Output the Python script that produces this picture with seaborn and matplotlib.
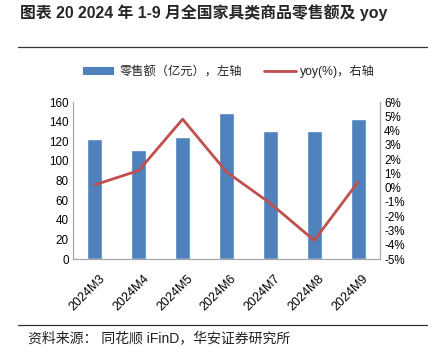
import matplotlib
matplotlib.use("Agg")
import matplotlib.pyplot as plt
import matplotlib.transforms as mtrans
import seaborn as sns
from matplotlib.lines import Line2D
from matplotlib.patches import Patch

months = ["2024M3", "2024M4", "2024M5", "2024M6", "2024M7", "2024M8", "2024M9"]
sales = [122, 111, 124, 149, 130, 130, 143]
yoy = [0.2, 1.2, 4.8, 1.1, -1.1, -3.7, 0.4]
left_ticks = [0, 20, 40, 60, 80, 100, 120, 140, 160]
right_ticks = [-5, -4, -3, -2, -1, 0, 1, 2, 3, 4, 5, 6]

title = "图表 20 2024 年 1-9 月全国家具类商品零售额及 yoy"
bar_label = "零售额（亿元），左轴"
line_label = "yoy(%)，右轴"
source = "资料来源： 同花顺 iFinD，华安证券研究所"

sns.set_theme(style="white")
plt.rcParams['font.family'] = ['Liberation Sans', 'Noto Sans CJK SC', 'DejaVu Sans']

BLUE = "#4F81BD"
RED = "#C0504D"
SPINE = "#A6A6A6"

fig = plt.figure(figsize=(4.28, 3.47), dpi=100)
ax = fig.add_axes([0.1706, 0.2536, 0.7173, 0.4524])

sns.barplot(x=months, y=sales, color=BLUE, width=0.34, ax=ax, saturation=1)
ax.set_ylim(0, 160)
ax.set_yticks(left_ticks)
ax.set_xlim(-0.5, 6.5)

ax2 = ax.twinx()
sns.lineplot(x=months, y=yoy, sort=False, color=RED, linewidth=2, ax=ax2)
ax2.set_ylim(-5, 6)
ax2.set_yticks(right_ticks)
ax2.set_yticklabels([f"{t}%" for t in right_ticks])
ax2.set_xlim(-0.5, 6.5)

for a in (ax, ax2):
    for s in a.spines.values():
        s.set_color(SPINE)
        s.set_linewidth(0.8)
    a.spines['top'].set_visible(False)
    a.tick_params(length=0, labelsize=8.4, colors="black", pad=3)
    a.set_xlabel("")
    a.set_ylabel("")
    a.grid(False)

ax.set_xticks(range(len(months)))
ax.set_xticklabels(months, rotation=45, ha='right', rotation_mode='anchor', fontsize=9)
ax.tick_params(axis='x', pad=10)
shift = mtrans.ScaledTranslation(4 / 100, 0, fig.dpi_scale_trans)
for lab in ax.get_xticklabels():
    lab.set_transform(lab.get_transform() + shift)

handles = [Patch(facecolor=BLUE, edgecolor='none'),
           Line2D([0], [0], color=RED, lw=2)]
fig.legend(handles, [bar_label, line_label], loc='center', bbox_to_anchor=(0.535, 0.793),
           ncol=2, frameon=False, fontsize=8.8, handlelength=2.6, handleheight=0.55,
           columnspacing=1.8, handletextpad=0.4)

fig.text(0.047, 0.963, title, fontsize=11.4, fontweight='bold', ha='left', va='center',
         family=['Liberation Sans', 'Noto Sans CJK SC'])

fig.add_artist(Line2D([0.042, 1.0], [0.8646, 0.8646], color="#333333", lw=0.9,
                      transform=fig.transFigure))
fig.add_artist(Line2D([0.042, 1.0], [0.0634, 0.0634], color="#333333", lw=0.9,
                      transform=fig.transFigure))

fig.text(0.066, 0.026, source, fontsize=10, ha='left', va='center', color="#222222",
         family=['Liberation Sans', 'Noto Sans CJK SC'])

fig.savefig("out.png", dpi=100)
